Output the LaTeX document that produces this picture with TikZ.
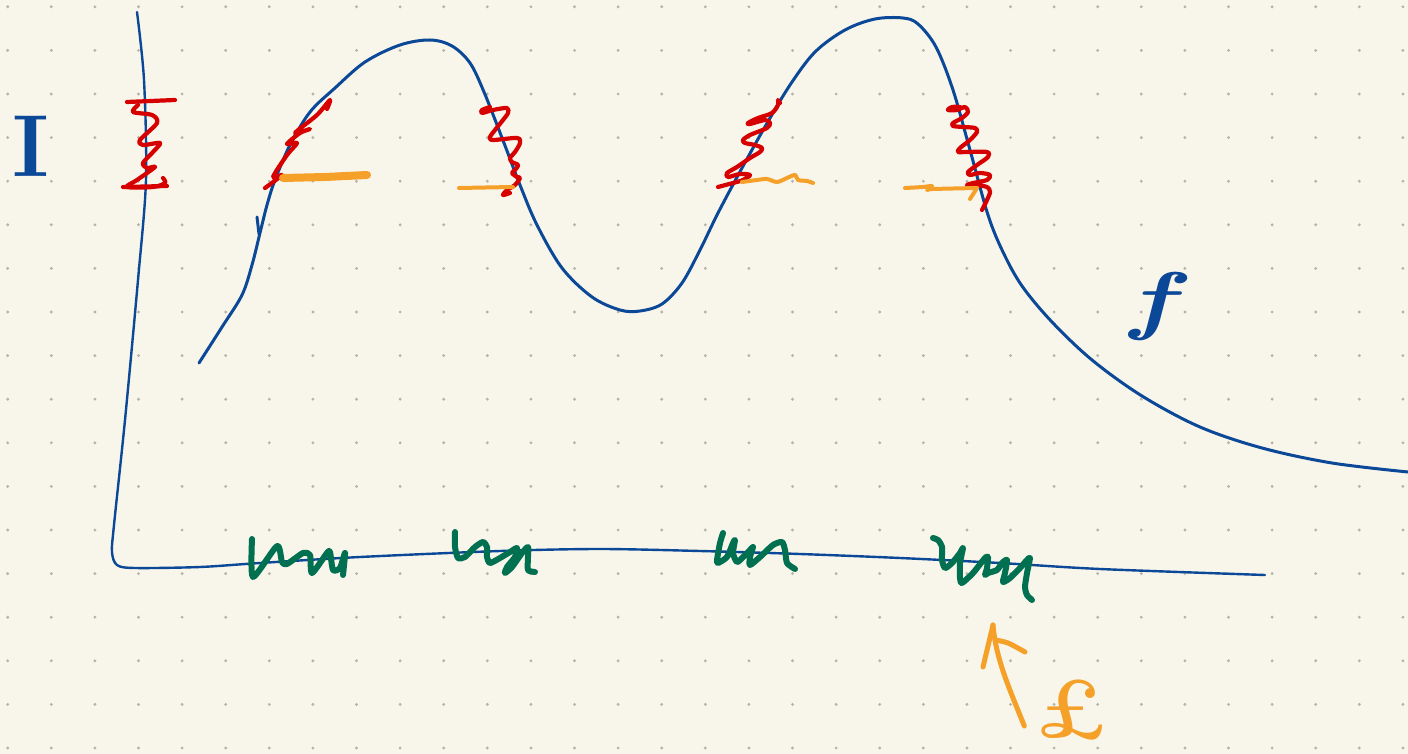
\documentclass[tikz,border=0pt]{standalone}
\usepackage{fontspec}
\usetikzlibrary{calc}
\definecolor{paper}{RGB}{248,246,234}
\definecolor{griddot}{RGB}{182,180,170}
\definecolor{inkblue}{RGB}{12,72,152}
\definecolor{inkred}{RGB}{214,0,0}
\definecolor{inkorange}{RGB}{245,160,40}
\definecolor{inkgreen}{RGB}{0,112,80}
\tikzset{
  pen/.style={line cap=round, line join=round},
  bluepen/.style={pen, draw=inkblue, line width=1.5pt},
  axispen/.style={pen, draw=inkblue, line width=1.2pt},
  redpen/.style={pen, draw=inkred, line width=2.1pt},
  greenpen/.style={pen, draw=inkgreen, line width=3pt},
  orangepen/.style={pen, draw=inkorange, line width=2pt},
  orangethick/.style={pen, draw=inkorange, line width=4pt},
  label/.style={inner sep=0pt, outer sep=0pt},
}
\begin{document}
\begin{tikzpicture}[x=0.5pt, y=-0.5pt]
  % paper and dot grid
  \fill[paper] (0,0) rectangle (1408,754);
  \useasboundingbox (0,0) rectangle (1408,754);
  \foreach \i in {0,...,32}{
    \foreach \j in {0,...,17}{
      \fill[griddot] ({7.7+43.6*\i},{6.8+43.6*\j}) circle[radius=0.8pt];
    }
  }

  % axes
  \draw[axispen] plot[smooth, tension=0.5] coordinates {
    (137,12) (144,80) (146,180) (138,280) (125,420) (114,525) (112,552)
    (117,565) (135,568) (200,567) (260,563) (360,557) (500,551) (600,549)
    (700,551) (800,554) (900,558) (1000,563) (1100,569) (1265,575)};

  % the curve f
  \draw[bluepen] plot[smooth, tension=0.55] coordinates {
    (199,363) (222,327) (242,295) (252,265) (260,233) (267,205) (275,180)
    (290,145) (310,112) (335,88) (365,62) (400,45) (430,40) (452,46)
    (470,63) (484,92) (504,143) (520,185) (537,225) (562,268) (592,297)
    (620,310) (640,311) (662,304) (682,283) (700,250) (718,213) (742,168)
    (766,125) (790,85) (815,52) (845,30) (875,19) (903,18) (918,24)
    (936,47) (953,90) (970,150) (988,215) (1003,252) (1022,286) (1052,322)
    (1092,360) (1142,396) (1200,427) (1262,448) (1332,463) (1408,472)};
  \draw[bluepen] (257,217) -- (259,234);

  % red zigzags on the curve and axis
  \draw[redpen] (127,102) -- (175,100);
  \draw[redpen] (123,187) -- (167,186);
  \draw[redpen] plot[smooth, tension=0.5] coordinates {
    (138,105) (133,112) (152,115) (157,123) (140,140) (143,145) (160,143)
    (153,152) (143,163) (147,168) (155,167) (137,180) (127,187) (153,187)
    (165,183) (163,178)};
  \draw[redpen] plot[smooth, tension=0.5] coordinates {
    (265,188) (282,175) (273,177) (287,155) (297,143) (287,144) (300,133)
    (310,129) (295,133) (317,115) (330,100) (327,109)};
  \draw[redpen] plot[smooth, tension=0.5] coordinates {
    (490,107) (482,110) (482,113) (493,110) (507,108) (508,113) (503,120)
    (495,130) (490,137) (493,140) (517,138) (520,143) (515,152) (510,158)
    (512,162) (518,165) (515,170) (512,173) (517,177) (520,178) (515,185)
    (507,190) (503,195) (510,193)};
  \draw[redpen] plot[smooth, tension=0.5] coordinates {
    (718,187) (733,183) (743,180) (750,175) (740,174) (728,177) (727,173)
    (737,167) (750,158) (760,152) (762,148) (755,145) (745,143) (743,140)
    (750,135) (767,128) (770,123) (765,120) (750,124) (748,123) (758,118)
    (772,113) (778,105) (778,100) (780,103)};
  \draw[redpen] plot[smooth, tension=0.5] coordinates {
    (960,107) (952,107) (948,110) (957,110) (965,107) (968,112) (962,118)
    (953,123) (953,126) (963,127) (975,128) (977,132) (970,140) (960,148)
    (958,152) (967,152) (987,152) (988,157) (977,165) (968,172) (970,175)
    (980,173) (990,175) (987,180) (973,183) (967,185) (975,185) (987,187)
    (990,192) (987,200) (982,210)};

  % orange level marks
  \draw[orangethick] (283,178) -- (325,177) -- (367,175);
  \draw[orangepen] (459,188) -- (513,187);
  \draw[orangepen] plot[smooth, tension=0.5] coordinates {
    (742,182) (757,180) (767,179) (777,182) (787,178) (795,175) (798,180)
    (807,181) (813,183)};
  \draw[orangepen] plot[smooth, tension=0.4] coordinates {
    (905,188) (923,187) (932,186) (927,190) (933,189) (977,188)};
  \draw[orangepen] (977,188) -- (970,199);

  % green squiggles on the axis
  \draw[greenpen] plot[smooth, tension=0.4] coordinates {
    (252,539) (253,577) (277,546) (282,562) (287,564) (303,553) (310,555)
    (312,573) (327,553) (330,552) (333,570) (340,568) (345,553) (343,575)};
  \draw[greenpen] plot[smooth, tension=0.4] coordinates {
    (455,532) (455,547) (458,558) (465,557) (475,547) (483,542) (487,547)
    (487,557) (490,563) (500,558) (510,552) (517,548) (515,557) (507,567)
    (505,573) (512,567) (522,553) (528,547) (528,557) (528,570) (535,572)};
  \draw[greenpen] plot[smooth, tension=0.4] coordinates {
    (723,533) (720,543) (717,560) (718,563) (727,557) (733,543) (735,540)
    (733,553) (737,562) (743,557) (750,550) (753,547) (750,557) (750,565)
    (760,557) (773,545) (782,542) (785,550) (787,563) (795,569)};
  \draw[greenpen] plot[smooth, tension=0.4] coordinates {
    (933,538) (938,540) (942,547) (942,560) (945,568) (952,563) (960,553)
    (963,548) (960,563) (960,578) (962,583) (973,573) (985,558) (988,557)
    (987,568) (985,575) (988,573) (997,570) (1002,563) (1007,560) (1005,573)
    (1003,582) (1010,578) (1020,568) (1027,560) (1030,558) (1027,573)
    (1025,587) (1027,595) (1032,600)};

  % labels
  \node[label, text=inkblue, font=\fontsize{44}{44}\selectfont\bfseries] (I) at (31,146) {I};
  \node[label, text=inkblue, font=\fontsize{38}{38}\selectfont\bfseries\itshape, xscale=1.4] (f) at (1152,307) {f};
  \node[label, text=inkorange, font=\fontsize{42}{42}\selectfont\bfseries] (pound) at (1072,710) {£};

  % arrow from the price to the last squiggle
  \coordinate (tip) at (993,625);
  \draw[orangepen, line width=2.5pt] ($(pound.west)+(-12,16)$)
    .. controls (1010,690) and (996,660) .. (tip);
  \draw[orangepen, line width=2.5pt] (tip) -- (983,667);
  \draw[orangepen, line width=2.5pt] plot[smooth, tension=0.5] coordinates {
    (995,640) (1008,643) (1025,652)};
\end{tikzpicture}
\end{document}
